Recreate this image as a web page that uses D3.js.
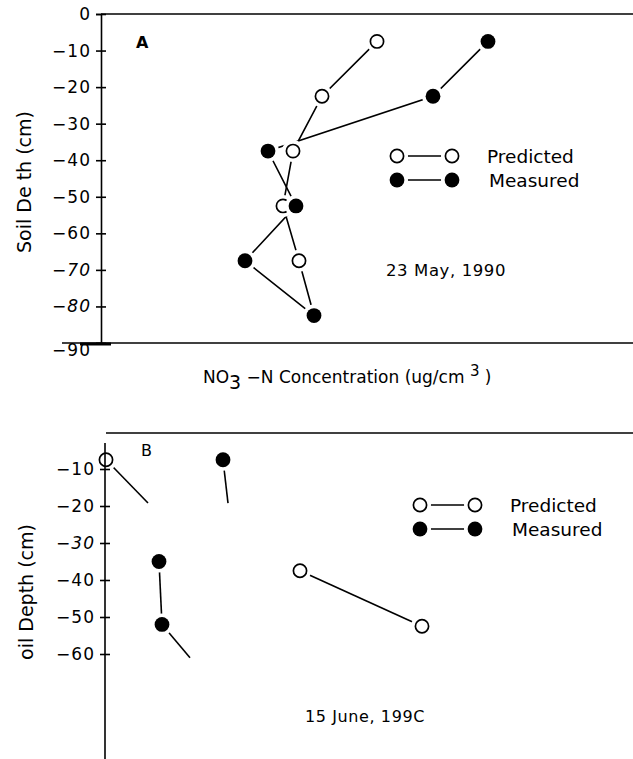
<!DOCTYPE html>
<meta charset="utf-8">
<style>
body { margin: 0; background: #fff; }
svg { display: block; }
text { font-family: "DejaVu Sans", sans-serif; fill: #000; }
.tick text { font-size: 17px; letter-spacing: 1px; }
.tick line, .frame { stroke: #000; stroke-width: 1.6px; }
.link { stroke: #000; stroke-width: 1.6px; fill: none; }
.lab { font-size: 19px; }
</style>
<body>
<script src="https://d3js.org/d3.v7.min.js"></script>
<script>

var W = 633, H = 759;

// panel A : 23 May 1990
var depthsA = [-7.5, -22.5, -37.5, -52.5, -67.5, -82.5];
var predA = [27.6, 22.1, 19.2, 18.2, 19.8, 21.3];
var measA = [38.7, 33.2, 16.7, 19.5, 14.4, 21.3];
var ticksA = [0, -10, -20, -30, -40, -50, -60, -70, -80, -90];

// panel B : 15 June 1990 (only part of it survives)
var predPtsB = [[0.1, -7.5], [19.5, -37.5], [31.7, -52.5]];
var measPtsB = [[11.8, -7.5], [5.4, -35], [5.7, -52]];
var predSegB = [[[0.1, -7.5], [4.3, -19.2]], [[19.5, -37.5], [31.7, -52.5]]];
var measSegB = [[[11.8, -7.5], [12.3, -19.2]], [[5.4, -35], [5.7, -52]], [[5.7, -52], [8.5, -61]]];
var ticksB = [-10, -20, -30, -40, -50, -60];
var italicTicks = {"A": [-70, -80], "B": [-30]};

var svg = d3.select("body").append("svg")
    .attr("width", W)
    .attr("height", H);

function fmt(d) { return d == 0 ? "0" : "\u2212" + Math.abs(d); }

// draws a circle with a white halo so lines stop short of it
function dot(g, x, y, filled) {
  g.append("circle").attr("cx", x).attr("cy", y).attr("r", 11).attr("fill", "#fff");
  g.append("circle").attr("cx", x).attr("cy", y).attr("r", filled ? 7.4 : 6.6)
    .attr("fill", filled ? "#000" : "#fff")
    .attr("stroke", "#000").attr("stroke-width", filled ? 0 : 1.7);
}

function yAxis(g, y, ticks, key) {
  g.call(d3.axisLeft(y).tickValues(ticks).tickFormat(fmt).tickSize(5).tickPadding(5));
  g.select(".domain").attr("stroke", "#000").attr("stroke-width", 1.6);
  g.selectAll(".tick line").attr("x1", -5).attr("x2", 5);
  g.selectAll(".tick text").filter(function(d) { return italicTicks[key].indexOf(d) >= 0; })
    .style("font-style", "italic");
}

function legend(g, x, y, fs) {
  [["Predicted", false], ["Measured", true]].forEach(function(e, i) {
    var yy = y + i * 24;
    g.append("line").attr("class", "link").attr("x1", x).attr("x2", x + 55).attr("y1", yy).attr("y2", yy);
    dot(g, x, yy, e[1]);
    dot(g, x + 55, yy, e[1]);
    g.append("text").attr("x", x + 90 + (i ? 2 : 0)).attr("y", yy + 7)
      .style("font-size", fs + "px").text(e[0]);
  });
}

var line = d3.line();

// ---------- panel A ----------
var xA = d3.scaleLinear().domain([0, 50]).range([101, 601]);
var yA = d3.scaleLinear().domain([0, -90]).range([14, 343]);
var gA = svg.append("g");

gA.append("line").attr("class", "frame").attr("x1", xA(0)).attr("x2", W).attr("y1", yA(0)).attr("y2", yA(0));
gA.append("line").attr("class", "frame").attr("x1", xA(0) - 39).attr("x2", W).attr("y1", yA(-90)).attr("y2", yA(-90));
gA.append("line").attr("stroke", "#000").attr("stroke-width", 3)
  .attr("x1", xA(0) - 21).attr("x2", xA(0) + 10).attr("y1", yA(-90) + 1).attr("y2", yA(-90) + 1);

[predA, measA].forEach(function(s) {
  gA.append("path").attr("class", "link")
    .attr("d", line(s.map(function(v, i) { return [xA(v), yA(depthsA[i])]; })));
});
predA.forEach(function(v, i) { dot(gA, xA(v), yA(depthsA[i]), false); });
measA.forEach(function(v, i) { dot(gA, xA(v), yA(depthsA[i]), true); });

var axA = gA.append("g").attr("transform", "translate(" + xA(0) + ",0)");
yAxis(axA, yA, ticksA, "A");
axA.selectAll(".tick text").filter(function(d) { return d == -90; }).attr("dy", "0.75em");

gA.append("text").attr("x", 136).attr("y", 48).style("font-size", "16px").style("font-weight", "bold").text("A");
gA.append("text").attr("class", "lab").attr("text-anchor", "middle")
  .attr("transform", "translate(31,182) rotate(-90)").text("Soil De th (cm)");

legend(gA, 397, 156, 18.5);
gA.append("text").attr("x", 386).attr("y", 276).style("font-size", "16.5px").style("letter-spacing", "0.6px")
  .text("23 May,  1990");

var xl = gA.append("text").attr("x", 203).attr("y", 383).style("font-size", "17px");
xl.append("tspan").text("NO");
xl.append("tspan").attr("dy", 6).style("font-size", "19px").text("3");
xl.append("tspan").attr("dy", -6).text(" \u2212N Concentration (ug/cm ");
xl.append("tspan").attr("dy", -7).style("font-size", "15px").text("3");
xl.append("tspan").attr("dy", 7).text(" )");

// ---------- panel B ----------
var xB = d3.scaleLinear().domain([0, 50]).range([105, 605]);
var yB = d3.scaleLinear().domain([0, -90]).range([432, 765]);
var gB = svg.append("g");

gB.append("line").attr("class", "frame").attr("x1", xB(0) + 1).attr("x2", W).attr("y1", yB(0) + 1).attr("y2", yB(0) + 1);

predSegB.concat(measSegB).forEach(function(s) {
  gB.append("path").attr("class", "link")
    .attr("d", line(s.map(function(p) { return [xB(p[0]), yB(p[1])]; })));
});
predPtsB.forEach(function(p) { dot(gB, xB(p[0]), yB(p[1]), false); });
measPtsB.forEach(function(p) { dot(gB, xB(p[0]), yB(p[1]), true); });

var axB = gB.append("g").attr("transform", "translate(" + xB(0) + ",0)");
yAxis(axB, yB, ticksB, "B");
axB.select(".domain").attr("d", "M0," + (yB(-3)) + "V" + H);

gB.append("text").attr("x", 141).attr("y", 456).style("font-size", "16px").text("B");
gB.append("text").attr("class", "lab").attr("text-anchor", "middle")
  .attr("transform", "translate(33,592) rotate(-90)").text("oil Depth (cm)");

legend(gB, 420, 505, 18.5);
gB.append("text").attr("x", 305).attr("y", 722).style("font-size", "16px").style("letter-spacing", "0.6px")
  .text("15 June, 199C");

</script>
</body>
